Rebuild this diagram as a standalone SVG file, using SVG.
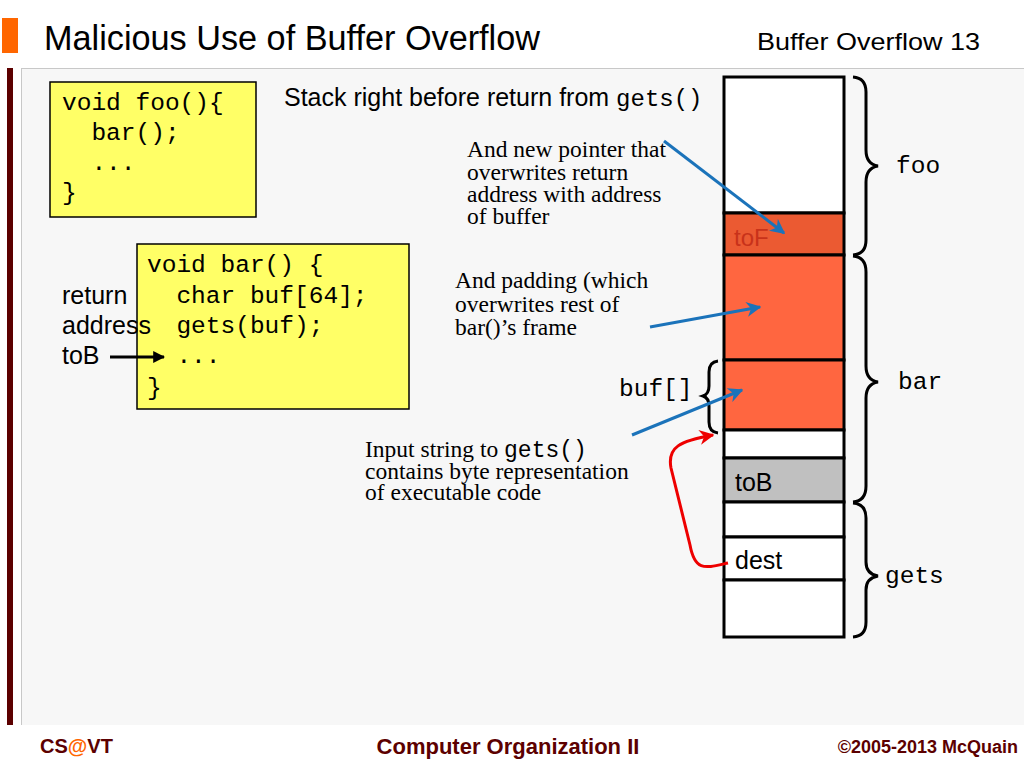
<svg xmlns="http://www.w3.org/2000/svg" width="1024" height="768" viewBox="0 0 1024 768">
<style>
.sans{font-family:"Liberation Sans",Arial,sans-serif;fill:#000}
.mono{font-family:"Liberation Mono","Courier New",monospace;fill:#000}
.serif{font-family:"Liberation Serif","Times New Roman",serif;fill:#000;font-size:23.5px}
.code{font-size:24.5px}
.box{fill:#ffff66;stroke:#000;stroke-width:1.5}
.cell{stroke:#000;stroke-width:3}
.brace{fill:none;stroke:#000;stroke-width:3}
.blue{stroke:#1b73ba;stroke-width:3;fill:none}
.red{stroke:#ee0000;stroke-width:3;fill:none}
.foot{font-family:"Liberation Sans",Arial,sans-serif;font-weight:bold;fill:#5c0000}
</style>
<defs>
<marker id="ab" viewBox="0 0 10 10" refX="9" refY="5" markerWidth="5" markerHeight="5" orient="auto" markerUnits="strokeWidth">
<path d="M0,0 L10,5 L0,10 L3,5 z" fill="#1b73ba"/>
</marker>
<marker id="ar" viewBox="0 0 10 10" refX="9" refY="5" markerWidth="5" markerHeight="5" orient="auto" markerUnits="strokeWidth">
<path d="M0,0 L10,5 L0,10 L3,5 z" fill="#ee0000"/>
</marker>
<marker id="ak" viewBox="0 0 10 10" refX="9" refY="5" markerWidth="4" markerHeight="4" orient="auto" markerUnits="strokeWidth">
<path d="M0,0 L10,5 L0,10 z" fill="#000"/>
</marker>
</defs>
<rect width="1024" height="768" fill="#fff"/>
<!-- header -->
<rect x="2" y="18" width="16" height="35" fill="#ff6600"/>
<text x="44" y="50" class="sans" font-size="35" textLength="496" lengthAdjust="spacingAndGlyphs">Malicious Use of Buffer Overflow</text>
<text x="757" y="50" class="sans" font-size="24" textLength="223" lengthAdjust="spacingAndGlyphs">Buffer Overflow  13</text>
<!-- panel -->
<rect x="21" y="68" width="1003" height="657" fill="#f7f7f7"/>
<line x1="21" y1="68.5" x2="1024" y2="68.5" stroke="#c8c8c8" stroke-width="1"/>
<line x1="21.5" y1="68" x2="21.5" y2="725" stroke="#c8c8c8" stroke-width="1"/>
<rect x="7" y="68" width="6" height="657" fill="#5c0000"/>
<!-- footer -->
<text x="40" y="753" class="foot" font-size="20">CS<tspan fill="#ff6600">@</tspan>VT</text>
<text x="508" y="754" class="foot" font-size="22" text-anchor="middle">Computer Organization II</text>
<text x="1018" y="753" class="foot" font-size="18" text-anchor="end">©2005-2013 McQuain</text>

<!-- foo code box -->
<g id="foo-box">
<rect x="50" y="82" width="206" height="135" class="box"/>
<text class="mono code" x="62" y="110" xml:space="preserve">void foo(){</text>
<text class="mono code" x="62" y="140" xml:space="preserve">  bar();</text>
<text class="mono code" x="62" y="170" xml:space="preserve">  ...</text>
<text class="mono code" x="62" y="200" xml:space="preserve">}</text>
</g>
<!-- bar code box -->
<g id="bar-box">
<rect x="137" y="244" width="272" height="165" class="box"/>
<text class="mono code" x="147" y="272" xml:space="preserve">void bar() {</text>
<text class="mono code" x="147" y="303" xml:space="preserve">  char buf[64];</text>
<text class="mono code" x="147" y="333" xml:space="preserve">  gets(buf);</text>
<text class="mono code" x="147" y="363" xml:space="preserve">  ...</text>
<text class="mono code" x="147" y="395" xml:space="preserve">}</text>
</g>
<g id="ret-label">
<text class="sans" font-size="25" x="62" y="304">return</text>
<text class="sans" font-size="25" x="62" y="334">address</text>
<text class="sans" font-size="25" x="62" y="364">toB</text>
</g>
<g id="title2">
<text class="sans" font-size="25" x="284" y="106">Stack right before return from <tspan class="mono" font-size="24">gets()</tspan></text>
</g>

<!-- stack -->
<g id="stack">
<rect x="724" y="77" width="120" height="136" fill="#fff" class="cell"/>
<rect x="724" y="213" width="120" height="42" fill="#eb5a32" class="cell"/>
<text x="734" y="246" class="sans" font-size="24" style="fill:#c8321a">toF</text>
<rect x="724" y="255" width="120" height="105" fill="#ff6640" class="cell"/>
<rect x="724" y="360" width="120" height="70" fill="#ff6640" class="cell"/>
<rect x="724" y="430" width="120" height="28" fill="#fff" class="cell"/>
<rect x="724" y="458" width="120" height="44" fill="#c0c0c0" class="cell"/>
<text x="735" y="491" class="sans" font-size="25">toB</text>
<rect x="724" y="502" width="120" height="35" fill="#fff" class="cell"/>
<rect x="724" y="537" width="120" height="43" fill="#fff" class="cell"/>
<text x="735" y="569" class="sans" font-size="25">dest</text>
<rect x="724" y="580" width="120" height="57" fill="#fff" class="cell"/>
</g>

<!-- braces -->
<g id="brace-foo">
<path class="brace" d="M853,77 Q866,78 866,92 L866,150 Q866,164 878,166 Q866,168 866,182 L866,240 Q866,254 853,255"/>
<text class="mono code" x="896" y="173">foo</text>
</g>
<g id="brace-bar">
<path class="brace" d="M853,256 Q866,257 866,272 L866,366 Q866,380 878,382 Q866,384 866,398 L866,486 Q866,501 853,502"/>
<text class="mono code" x="898" y="389">bar</text>
</g>
<g id="brace-gets">
<path class="brace" d="M853,503 Q866,504 866,518 L866,562 Q866,574 878,576 Q866,578 866,590 L866,622 Q866,636 853,637"/>
<text class="mono code" x="885" y="583">gets</text>
</g>
<g id="brace-buf">
<path class="brace" d="M718,361 Q709,362 709,372 L709,386 Q709,394 703,396 Q709,398 709,406 L709,422 Q709,432 718,433"/>
<text class="mono code" x="619" y="396">buf[]</text>
</g>

<!-- annotations -->
<g id="note-pointer">
<text class="serif" x="467" y="157">And new pointer that</text>
<text class="serif" x="467" y="180">overwrites return</text>
<text class="serif" x="467" y="202">address with address</text>
<text class="serif" x="467" y="224">of buffer</text>
</g>
<g id="note-padding">
<text class="serif" x="455" y="288">And padding (which</text>
<text class="serif" x="455" y="312">overwrites rest of</text>
<text class="serif" x="455" y="335">bar()’s frame</text>
</g>
<g id="note-input">
<text class="serif" x="365" y="457">Input string to <tspan class="mono" font-size="23">gets()</tspan></text>
<text class="serif" x="365" y="479">contains byte representation</text>
<text class="serif" x="365" y="500">of executable code</text>
</g>

<!-- connectors -->
<g id="connectors">
<line class="blue" x1="664" y1="141" x2="784" y2="233" marker-end="url(#ab)"/>
<line class="blue" x1="650" y1="327" x2="760" y2="307" marker-end="url(#ab)"/>
<line class="blue" x1="632" y1="435" x2="742" y2="390" marker-end="url(#ab)"/>
<path class="red" d="M728,563 C705,568 695,572 690,545 L671,468 C667,447 680,441 713,435" marker-end="url(#ar)"/>
<line x1="110" y1="357" x2="164" y2="357" stroke="#000" stroke-width="3" marker-end="url(#ak)"/>
</g>
</svg>
